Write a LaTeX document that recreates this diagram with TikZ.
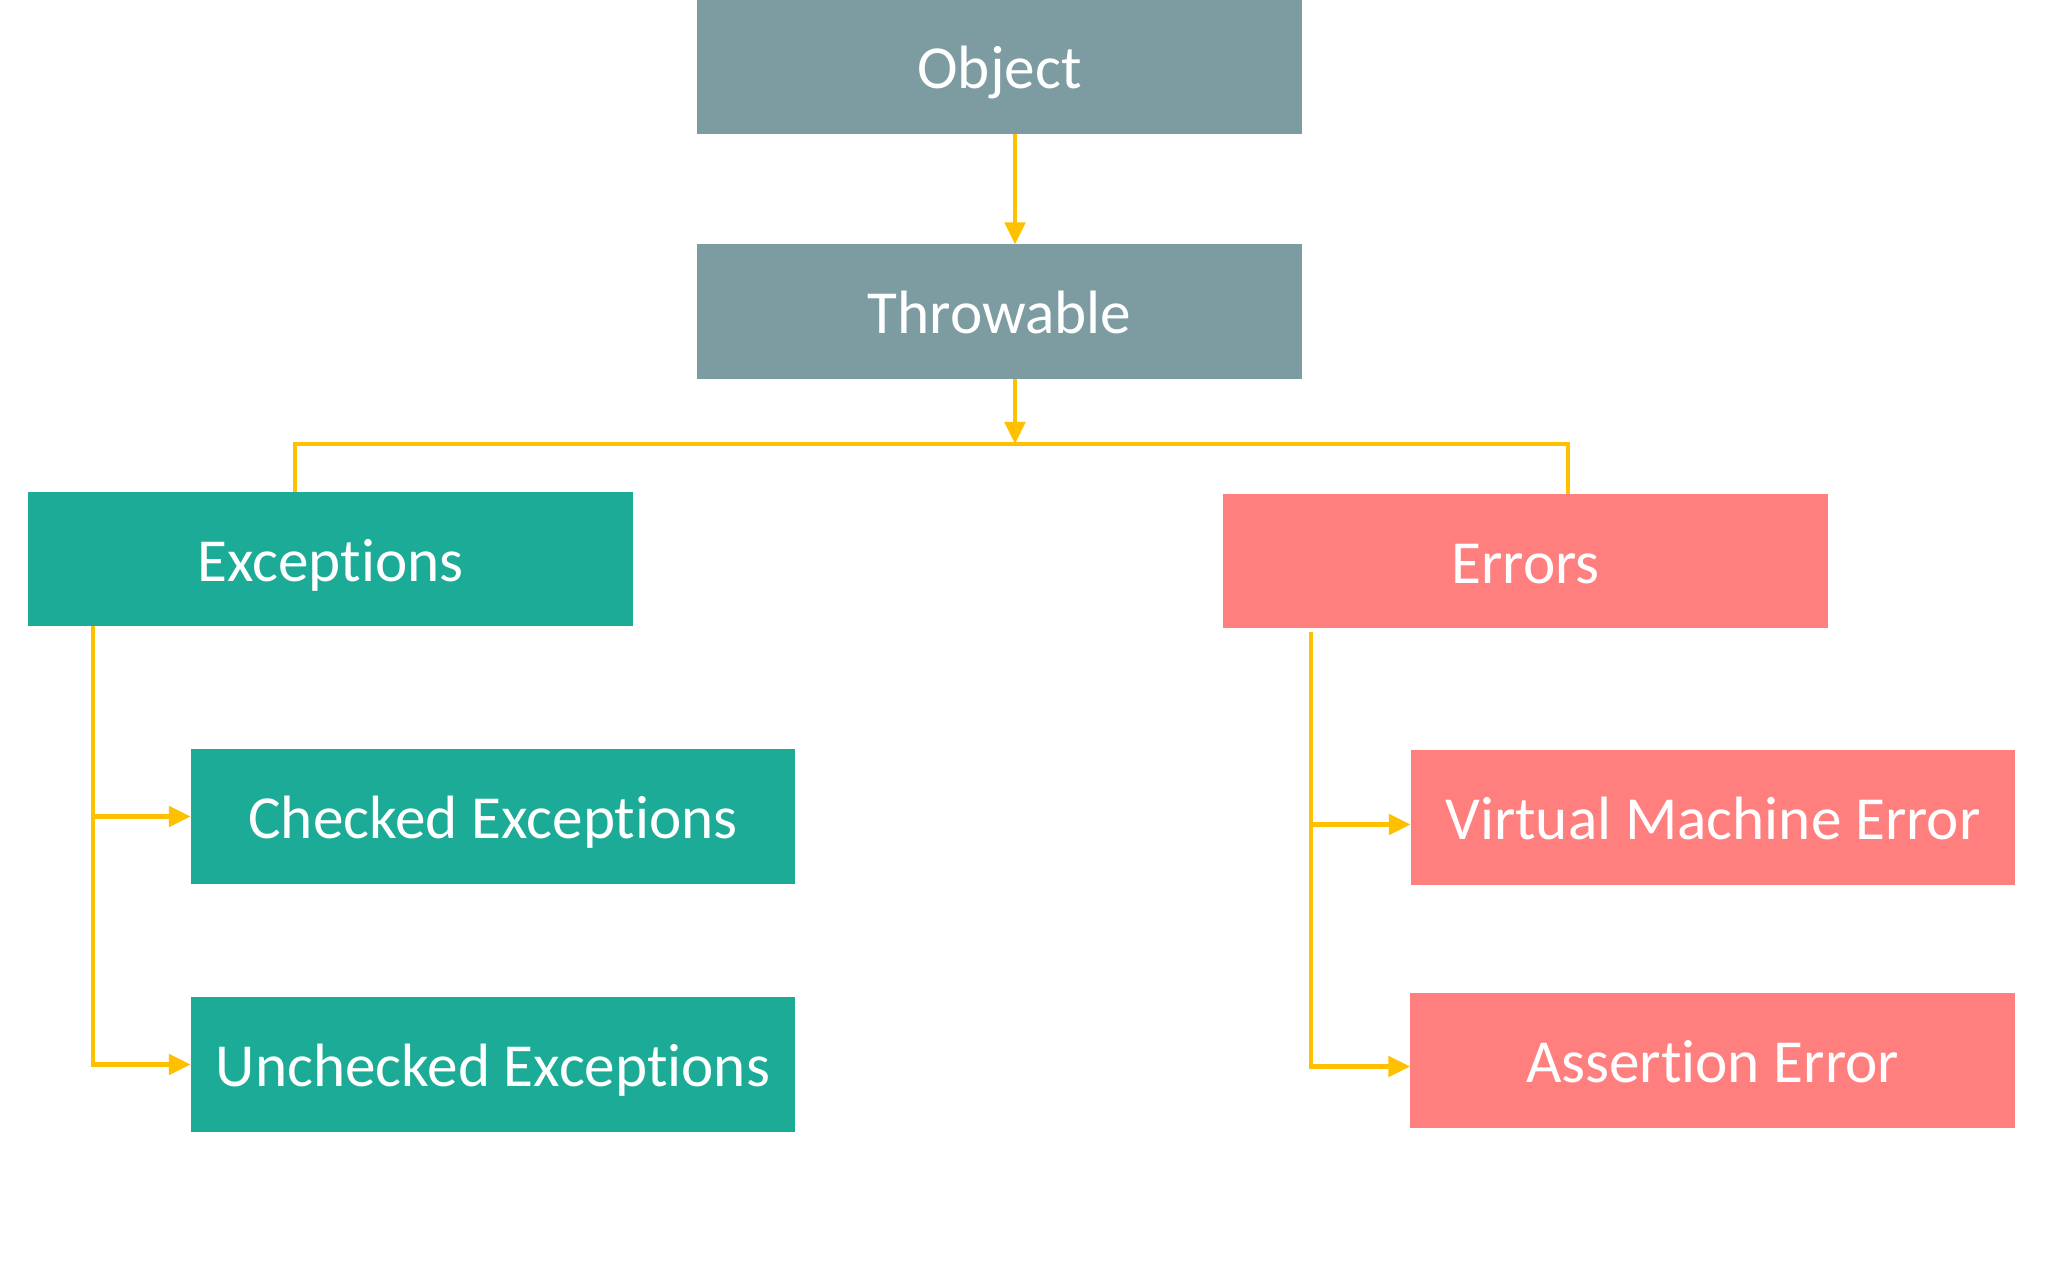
\documentclass[tikz,border=0pt]{standalone}
\usepackage{fontspec}
\setmainfont{Carlito}[Ligatures=NoCommon]
\usetikzlibrary{arrows.meta}
\definecolor{objgray}{HTML}{7C9CA2}
\definecolor{exteal}{HTML}{1BAB97}
\definecolor{errpink}{HTML}{FF7F7F}
\definecolor{linkyellow}{HTML}{FFC000}
\begin{document}
\begin{tikzpicture}[x={(0.01cm,0cm)},y={(0cm,-0.01cm)},
  every node/.style={minimum width=6.04cm, minimum height=1.34cm, outer sep=0pt, inner sep=0pt,
    text height=0.44cm, text depth=0cm, text=white, font=\fontsize{17.4}{21}\selectfont},
  link/.style={draw=linkyellow, line width=1.4pt},
  arr/.style={link, -{Triangle[length=0.22cm,width=0.2cm]}}]

\useasboundingbox (0,0) rectangle (2048,1263);

\node[fill=objgray] (object) at (999.5,66.5) {Object};
\node[fill=objgray] (throwable) at (999.5,311.5) {Throwable};
\node[fill=exteal] (exceptions) at (330.5,559) {Exceptions};
\node[fill=errpink] (errors) at (1525.5,561) {Errors};
\node[fill=exteal] (checked) at (493,816.5) {Checked Exceptions};
\node[fill=exteal] (unchecked) at (493,1064.5) {Unchecked Exceptions};
\node[fill=errpink] (vme) at (1713,817.5) {Virtual Machine Error};
\node[fill=errpink] (assertion) at (1712.5,1060.5) {Assertion Error};

\coordinate (busL) at (295,444);
\coordinate (busM) at (1015,444);
\coordinate (busR) at (1568,444);
\coordinate (extrunk) at (93,0);
\coordinate (ertrunk) at (1311,0);

\draw[arr] (object.south -| busM) -- (throwable.north -| busM);
\draw[arr] (throwable.south -| busM) -- (busM);
\draw[link] (exceptions.north -| busL) -- (busL) -- (busR) -- (errors.north -| busR);

\draw[arr] (exceptions.south -| extrunk) |- (unchecked.west);
\draw[arr] (checked.west -| extrunk) -- (checked.west);
\draw[arr] ([yshift=-0.04cm]errors.south -| ertrunk) |- ([yshift=-0.06cm]assertion.west);
\draw[arr] ([yshift=-0.07cm]vme.west -| ertrunk) -- ([yshift=-0.07cm]vme.west);
\end{tikzpicture}
\end{document}
